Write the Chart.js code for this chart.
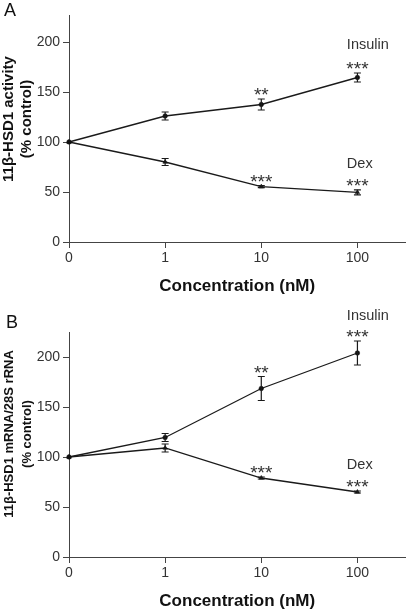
<!DOCTYPE html>
<html>
<head>
<meta charset="utf-8">
<script src="https://cdn.jsdelivr.net/npm/chart.js@4.4.0/dist/chart.umd.min.js"></script>
<style>
  html, body { margin: 0; padding: 0; background: #fff; }
  .panel { position: absolute; left: 0; width: 410px; height: 306px; }
  #panelA { top: 0; }
  #panelB { top: 306px; }
</style>
</head>
<body>
<div class="panel" id="panelA"><canvas id="chartA"></canvas></div>
<div class="panel" id="panelB"><canvas id="chartB"></canvas></div>
<script>
// x categories (log-spaced doses drawn evenly) and y ticks
const concLabels = ['0', '1', '10', '100'];
const yTicks = [0, 50, 100, 150, 200];

// panel A: 11b-HSD1 activity (% control)
const activityInsulin = [100, 126, 137.5, 164.5];
const activityInsulinErr = [0, 4, 5.5, 4.5];
const activityInsulinStars = ['', '', '**', '***'];
const activityDex = [100, 80, 55.3, 49.7];
const activityDexErr = [0, 3.5, 1, 2.5];
const activityDexStars = ['', '', '***', '***'];

// panel B: 11b-HSD1 mRNA / 28S rRNA (% control)
const mrnaInsulin = [100, 119.5, 168.5, 204];
const mrnaInsulinErr = [0, 4, 12, 12];
const mrnaInsulinStars = ['', '', '**', '***'];
const mrnaDex = [100, 109, 79, 65];
const mrnaDexErr = [0, 4, 1, 1];
const mrnaDexStars = ['', '', '***', '***'];

// series name labels: [x value, y value] in data units
const activityNameSpots = [[2.89, 197], [2.89, 78]];
const mrnaNameSpots = [[2.89, 241], [2.89, 92]];

const FONT = '"Liberation Sans", Arial, Helvetica, sans-serif';
const INK = '#1a1a1a';

const makePanel = (canvasId, cfg) => {
  const series = [
    { name: 'Insulin', values: cfg.insulin, errors: cfg.insulinErr, stars: cfg.insulinStars, style: 'circle', radius: 2.3, spot: cfg.nameSpots[0] },
    { name: 'Dex', values: cfg.dex, errors: cfg.dexErr, stars: cfg.dexStars, style: 'triangle', radius: 2.6, spot: cfg.nameSpots[1] },
  ];

  // error bars, significance stars, series names, panel letter and y title
  const decorate = {
    id: 'decorate',
    afterDatasetsDraw(chart) {
      const { ctx, scales: { x, y } } = chart;
      ctx.save();
      ctx.strokeStyle = INK;
      ctx.lineWidth = 1.2;
      series.forEach((s) => {
        s.values.forEach((v, i) => {
          const e = s.errors[i];
          const px = x.getPixelForValue(i);
          if (e) {
            const top = y.getPixelForValue(v + e);
            const bot = y.getPixelForValue(v - e);
            ctx.beginPath();
            ctx.moveTo(px, top); ctx.lineTo(px, bot);
            ctx.moveTo(px - 3.5, top); ctx.lineTo(px + 3.5, top);
            ctx.moveTo(px - 3.5, bot); ctx.lineTo(px + 3.5, bot);
            ctx.stroke();
          }
          if (s.stars[i]) {
            ctx.fillStyle = '#333';
            ctx.font = '19px ' + FONT;
            ctx.textAlign = 'center';
            ctx.textBaseline = 'alphabetic';
            ctx.fillText(s.stars[i], px, y.getPixelForValue(v + e) + 2);
          }
        });
        ctx.fillStyle = '#333';
        ctx.font = '14.5px ' + FONT;
        ctx.textAlign = 'left';
        ctx.textBaseline = 'middle';
        ctx.fillText(s.name, x.getPixelForValue(s.spot[0]), y.getPixelForValue(s.spot[1]));
      });

      // panel letter
      ctx.fillStyle = '#111';
      ctx.font = '18px ' + FONT;
      ctx.textAlign = 'left';
      ctx.textBaseline = 'alphabetic';
      ctx.fillText(cfg.letter, cfg.letterAt[0], cfg.letterAt[1]);

      // y axis title, two lines, rotated
      ctx.translate(0, y.getPixelForValue(123));
      ctx.rotate(-Math.PI / 2);
      ctx.fillStyle = '#111';
      ctx.font = 'bold ' + cfg.yTitleSize + 'px ' + FONT;
      ctx.textAlign = 'center';
      ctx.textBaseline = 'middle';
      ctx.fillText(cfg.yTitle[0], 0, 9);
      ctx.fillText(cfg.yTitle[1], 0, 27);
      ctx.restore();
    },
  };

  const axisGrid = { display: true, drawOnChartArea: false, drawTicks: true, tickLength: 6, color: '#444', lineWidth: 1 };
  const axisBorder = { display: true, color: '#444', width: 1 };

  return new Chart(document.getElementById(canvasId), {
    type: 'line',
    data: {
      datasets: series.map((s) => ({
        label: s.name,
        data: s.values.map((v, i) => ({ x: i, y: v })),
        borderColor: INK,
        borderWidth: 1.3,
        backgroundColor: INK,
        pointStyle: s.style,
        pointRadius: s.radius,
        pointBackgroundColor: '#111',
        pointBorderColor: '#111',
        pointBorderWidth: 0.5,
        tension: 0,
        clip: false,
      })),
    },
    options: {
      responsive: true,
      maintainAspectRatio: false,
      animation: false,
      devicePixelRatio: 1,
      layout: { padding: { left: 0, right: 2, top: cfg.padTop, bottom: cfg.padBottom } },
      plugins: { legend: { display: false }, tooltip: { enabled: false } },
      scales: {
        x: {
          type: 'linear',
          min: 0,
          max: 3.5,
          afterBuildTicks: (axis) => { axis.ticks = concLabels.map((_, i) => ({ value: i })); },
          afterFit: (axis) => { axis.height = 55; },
          grid: axisGrid,
          border: axisBorder,
          ticks: {
            padding: 2,
            color: '#333',
            maxRotation: 0,
            autoSkip: false,
            font: { size: 14, family: FONT },
            callback: (v) => concLabels[v] ?? '',
          },
          title: {
            display: true,
            text: 'Concentration (nM)',
            color: '#111',
            padding: 0,
            font: { size: 17, weight: 'bold', family: FONT },
          },
        },
        y: {
          type: 'linear',
          min: 0,
          max: cfg.yMax,
          afterBuildTicks: (axis) => { axis.ticks = yTicks.map((v) => ({ value: v })); },
          afterFit: (axis) => { axis.width = 69; },
          grid: axisGrid,
          border: axisBorder,
          ticks: { padding: 3, color: '#333', font: { size: 14, family: FONT } },
        },
      },
    },
    plugins: [decorate],
  });
};

makePanel('chartA', {
  insulin: activityInsulin, insulinErr: activityInsulinErr, insulinStars: activityInsulinStars,
  dex: activityDex, dexErr: activityDexErr, dexStars: activityDexStars,
  nameSpots: activityNameSpots,
  yMax: 227, padTop: 15, padBottom: 9,
  letter: 'A', letterAt: [4, 16],
  yTitle: ['11β-HSD1 activity', '(% control)'], yTitleSize: 15,
});

makePanel('chartB', {
  insulin: mrnaInsulin, insulinErr: mrnaInsulinErr, insulinStars: mrnaInsulinStars,
  dex: mrnaDex, dexErr: mrnaDexErr, dexStars: mrnaDexStars,
  nameSpots: mrnaNameSpots,
  yMax: 225, padTop: 26, padBottom: 0,
  letter: 'B', letterAt: [6, 22],
  yTitle: ['11β-HSD1 mRNA/28S rRNA', '(% control)'], yTitleSize: 13,
});
</script>
</body>
</html>
